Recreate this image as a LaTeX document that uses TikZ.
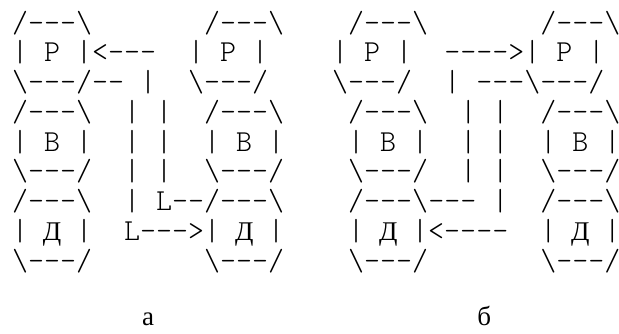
\documentclass[tikz,border=0pt]{standalone}
\usepackage{fontspec}
\setmonofont{lmmonolt10-regular.otf}
\newfontfamily\cyrserif{Liberation Serif}
\usepackage{tikz}
\newcommand{\bs}{\textbackslash}
\newcommand{\cyr}[1]{\makebox[16pt][c]{\cyrserif\fontsize{27}{29.75}\selectfont #1}}

\begin{document}
\begin{tikzpicture}[x=1pt, y=-1pt,
    asciirow/.style={anchor=base west, inner sep=0pt,
      font=\ttfamily\fontsize{30.48}{29.75}\selectfont}]
  \useasboundingbox (0,0) rectangle (619,333);
  % variant a (left) and variant b (right), one text line per row
  \node[asciirow] (row0) at (12,32) {/---\bs{}~~~~~~~/---\bs{}~~~~/---\bs{}~~~~~~~/---\bs{}};
  \node[asciirow] (row1) at (12,61.75) {|~P~|<---~~|~P~|~~~~|~P~|~~---->|~P~|};
  \node[asciirow] (row2) at (12,91.5) {\bs{}---/--~|~~\bs{}---/~~~~\bs{}---/~~|~---\bs{}---/};
  \node[asciirow] (row3) at (12,121.25) {/---\bs{}~~|~|~~/---\bs{}~~~~/---\bs{}~~|~|~~/---\bs{}};
  \node[asciirow] (row4) at (12,151) {|~B~|~~|~|~~|~B~|~~~~|~B~|~~|~|~~|~B~|};
  \node[asciirow] (row5) at (12,180.75) {\bs{}---/~~|~|~~\bs{}---/~~~~\bs{}---/~~|~|~~\bs{}---/};
  \node[asciirow] (row6) at (12,210.5) {/---\bs{}~~|~L--/---\bs{}~~~~/---\bs{}---~|~~/---\bs{}};
  \node[asciirow] (row7) at (12,240.25) {|~\cyr{Д}~|~~L--->|~\cyr{Д}~|~~~~|~\cyr{Д}~|<----~~|~\cyr{Д}~|};
  \node[asciirow] (row8) at (12,270) {\bs{}---/~~~~~~~\bs{}---/~~~~\bs{}---/~~~~~~~\bs{}---/};
  % captions
  \node[asciirow] (capa) at (140,325) {\cyr{а}};
  \node[asciirow] (capb) at (476,325) {\cyr{б}};
\end{tikzpicture}
\end{document}
